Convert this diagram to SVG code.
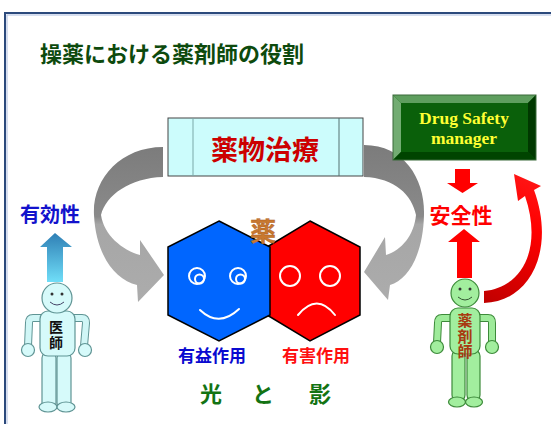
<svg xmlns="http://www.w3.org/2000/svg" width="551" height="424" viewBox="0 0 551 424">
  <style>
    .jp { font-family: "Noto Sans CJK JP", "Noto Sans", sans-serif; font-weight: bold; }
    .en { font-family: "Liberation Serif", serif; font-weight: bold; }
    .vert { writing-mode: vertical-rl; }
    .hex { stroke: #000; stroke-width: 1.5; stroke-linejoin: miter; }
    .face { fill: none; stroke: #fff; stroke-width: 2; stroke-linecap: round; }
    .docLine { fill: #d6fafa; stroke: #5f9494; stroke-width: 1.2; }
    .phLine { fill: #a2ee9e; stroke: #3d8a3a; stroke-width: 1.2; }
  </style>
  <defs>
    <linearGradient id="grayL" x1="0" y1="147" x2="0" y2="302" gradientUnits="userSpaceOnUse">
      <stop offset="0" stop-color="#7c7c7c"/>
      <stop offset="0.45" stop-color="#8a8a8a"/>
      <stop offset="0.5" stop-color="#a6a6a6"/>
      <stop offset="1" stop-color="#acacac"/>
    </linearGradient>
    <linearGradient id="blueUp" x1="0" y1="233" x2="0" y2="282" gradientUnits="userSpaceOnUse">
      <stop offset="0" stop-color="#2f7fb5"/>
      <stop offset="1" stop-color="#70def8"/>
    </linearGradient>
    <linearGradient id="redCurve" x1="480" y1="300" x2="540" y2="170" gradientUnits="userSpaceOnUse">
      <stop offset="0" stop-color="#c00000"/>
      <stop offset="0.6" stop-color="#ff0000"/>
      <stop offset="1" stop-color="#ff1a1a"/>
    </linearGradient>
    <radialGradient id="docFill" cx="0.35" cy="0.35" r="0.8">
      <stop offset="0" stop-color="#f4ffff"/>
      <stop offset="1" stop-color="#b8eaea"/>
    </radialGradient>
    <radialGradient id="phFill" cx="0.35" cy="0.35" r="0.8">
      <stop offset="0" stop-color="#ccffc8"/>
      <stop offset="1" stop-color="#7cd878"/>
    </radialGradient>
  </defs>

  <!-- page frame -->
  <rect x="5" y="13" width="600" height="500" fill="#fff" stroke="#2c4a7c" stroke-width="2"/>
  <rect x="7" y="15" width="600" height="500" fill="none" stroke="#aebee0" stroke-width="1"/>

  <!-- title -->
  <g id="title">
    <text class="jp" x="40" y="62" font-size="22" fill="#0d4a0d">操薬における薬剤師の役割</text>
  </g>

  <!-- connectors -->
  <g id="connectors">
    <!-- gray loop arrow, left -->
    <path fill="url(#grayL)" d="M 163,147 C 120,147 92,180 94,215 C 96,255 115,280 137,285 L 138,302 L 164,275 L 140,240 L 140,255 C 122,250 104,235 101,215 C 106,195 130,178 163,177 Z"/>
    <!-- gray loop arrow, right -->
    <path fill="url(#grayL)" d="M 364,145 C 405,145 425,180 424,215 C 423,255 408,280 390,285 L 388,300 L 364,272 L 385,237 L 386,255 C 402,250 414,235 416,215 C 412,195 395,178 364,177 Z"/>
    <!-- doctor to efficacy -->
    <path fill="url(#blueUp)" d="M 55,233 L 72,247 L 63,247 L 63,282 L 47,282 L 47,247 L 40,247 Z"/>
    <!-- manager to safety -->
    <path fill="#ff0000" d="M 455,169 L 470,169 L 470,183 L 478,183 L 462.5,193 L 447,183 L 455,183 Z"/>
    <!-- pharmacist to safety -->
    <path fill="#ff0000" d="M 464,229 L 480,242 L 472,242 L 472,278 L 457,278 L 457,242 L 448,242 Z"/>
    <!-- pharmacist back to manager -->
    <path fill="url(#redCurve)" d="M 484,303 C 530,302 556,250 534,190 L 541,186 L 514,174 L 518,201 L 525,196 C 542,245 525,287 484,291 Z"/>
  </g>

  <!-- drug therapy -->
  <g id="therapy">
    <rect x="168" y="118" width="195" height="58" fill="#ccfcfc" stroke="#444" stroke-width="1"/>
    <line x1="193" y1="118" x2="193" y2="176" stroke="#7aa8a8" stroke-width="1"/>
    <line x1="339" y1="118" x2="339" y2="176" stroke="#557070" stroke-width="1"/>
    <text class="jp" x="265" y="160" font-size="27" fill="#cc0000" text-anchor="middle">薬物治療</text>
  </g>

  <!-- drug safety manager -->
  <g id="manager">
    <rect x="393" y="95" width="143" height="65" fill="#005c00"/>
    <polygon points="393,95 536,95 528,103 401,103" fill="#5e9e5e"/>
    <polygon points="393,95 401,103 401,152 393,160" fill="#72ac72"/>
    <polygon points="536,95 536,160 528,152 528,103" fill="#003800"/>
    <polygon points="393,160 401,152 528,152 536,160" fill="#004400"/>
    <rect x="401" y="103" width="127" height="49" fill="#0a600a"/>
    <rect x="393" y="95" width="143" height="65" fill="none" stroke="#3a6a3a" stroke-width="1"/>
    <text class="en" font-size="17.5" fill="#ffff33" text-anchor="middle"><tspan x="464" y="124">Drug Safety</tspan><tspan x="464" y="144">manager</tspan></text>
  </g>

  <!-- medicine: benefit and harm -->
  <g id="harm">
    <polygon class="hex" fill="#ff0000" points="310,221 360,247 360,315 310,341 267,315 267,247"/>
    <circle class="face" cx="290" cy="276" r="10"/>
    <circle class="face" cx="330" cy="276" r="10"/>
    <path class="face" d="M 298,315 Q 317,292 335,315"/>
  </g>
  <g id="benefit">
    <polygon class="hex" fill="#0066ff" points="219,221 270,247 270,315 219,341 168,315 168,247"/>
    <circle class="face" cx="197" cy="276" r="8"/>
    <circle class="face" cx="199.5" cy="279" r="4.5"/>
    <circle class="face" cx="238" cy="276" r="8"/>
    <circle class="face" cx="240.5" cy="279" r="4.5"/>
    <path class="face" d="M 200,310 Q 219,328 239,309"/>
  </g>
  <g id="medicine">
    <text class="jp" x="263" y="241" font-size="26" fill="#c8782f" stroke="#a85a20" stroke-width="0.4" text-anchor="middle">薬</text>
  </g>
  <g id="labels">
    <text class="jp" x="212" y="362" font-size="17" fill="#0a0ad0" text-anchor="middle">有益作用</text>
    <text class="jp" x="316" y="362" font-size="17" fill="#ff1010" text-anchor="middle">有害作用</text>
    <text class="jp" x="211" y="402" font-size="22" fill="#137313" text-anchor="middle">光</text>
    <text class="jp" x="263" y="402" font-size="22" fill="#137313" text-anchor="middle">と</text>
    <text class="jp" x="320" y="402" font-size="22" fill="#137313" text-anchor="middle">影</text>
  </g>

  <g id="efficacy">
    <text class="jp" x="50" y="222" font-size="20" fill="#1212cc" text-anchor="middle">有効性</text>
  </g>
  <g id="safety">
    <text class="jp" x="461" y="223" font-size="21" fill="#ff0000" text-anchor="middle">安全性</text>
  </g>

  <!-- doctor -->
  <g id="doctor">
    <path d="M 42,318 L 33,318 Q 29,318 29,323 L 28,346" fill="none" stroke="#5f9494" stroke-width="8" stroke-linecap="round"/>
    <path d="M 42,318 L 33,318 Q 29,318 29,323 L 28,346" fill="none" stroke="#d0f6f6" stroke-width="6" stroke-linecap="round"/>
    <path d="M 73,318 L 82,318 Q 86,318 86,323 L 84,346" fill="none" stroke="#5f9494" stroke-width="8" stroke-linecap="round"/>
    <path d="M 73,318 L 82,318 Q 86,318 86,323 L 84,346" fill="none" stroke="#d0f6f6" stroke-width="6" stroke-linecap="round"/>
    <circle class="docLine" cx="28" cy="350" r="6.5" fill="url(#docFill)"/>
    <circle class="docLine" cx="85" cy="350" r="6.5" fill="url(#docFill)"/>
    <rect class="docLine" x="42" y="352" width="14" height="57" rx="6" fill="url(#docFill)"/>
    <rect class="docLine" x="57" y="352" width="14" height="57" rx="6" fill="url(#docFill)"/>
    <ellipse class="docLine" cx="48" cy="407" rx="9" ry="5" fill="url(#docFill)"/>
    <ellipse class="docLine" cx="66" cy="407" rx="9" ry="5" fill="url(#docFill)"/>
    <rect class="docLine" x="40" y="311" width="35" height="45" rx="8" fill="url(#docFill)"/>
    <circle class="docLine" cx="57" cy="298" r="15" fill="url(#docFill)"/>
    <circle cx="52" cy="294" r="1.5" fill="#333"/>
    <circle cx="62" cy="294" r="1.5" fill="#333"/>
    <path d="M 50,302 Q 57,308 64,302" fill="none" stroke="#446" stroke-width="1"/>
    <text class="jp vert" x="56" y="320" font-size="14" fill="#111" letter-spacing="1.5">医師</text>
  </g>

  <!-- pharmacist -->
  <g id="pharmacist">
    <path d="M 452,318 L 442,318 Q 438,318 438,323 L 437,343" fill="none" stroke="#3d8a3a" stroke-width="8" stroke-linecap="round"/>
    <path d="M 452,318 L 442,318 Q 438,318 438,323 L 437,343" fill="none" stroke="#9eeb9a" stroke-width="6" stroke-linecap="round"/>
    <path d="M 478,318 L 488,318 Q 492,318 492,323 L 492,343" fill="none" stroke="#3d8a3a" stroke-width="8" stroke-linecap="round"/>
    <path d="M 478,318 L 488,318 Q 492,318 492,323 L 492,343" fill="none" stroke="#9eeb9a" stroke-width="6" stroke-linecap="round"/>
    <circle class="phLine" cx="437" cy="347" r="6.5" fill="url(#phFill)"/>
    <circle class="phLine" cx="492" cy="347" r="6.5" fill="url(#phFill)"/>
    <rect class="phLine" x="452" y="350" width="13" height="51" rx="6" fill="url(#phFill)"/>
    <rect class="phLine" x="467" y="350" width="13" height="51" rx="6" fill="url(#phFill)"/>
    <ellipse class="phLine" cx="457" cy="402" rx="8.5" ry="5" fill="url(#phFill)"/>
    <ellipse class="phLine" cx="474" cy="402" rx="8.5" ry="5" fill="url(#phFill)"/>
    <rect class="phLine" x="450" y="308" width="30" height="46" rx="8" fill="url(#phFill)"/>
    <circle class="phLine" cx="465" cy="293" r="14" fill="url(#phFill)"/>
    <circle cx="460" cy="289" r="1.5" fill="#333"/>
    <circle cx="470" cy="289" r="1.5" fill="#333"/>
    <path d="M 458,297 Q 465,303 472,297" fill="none" stroke="#353" stroke-width="1"/>
    <text class="jp vert" x="465" y="313" font-size="15" fill="#a83a10" letter-spacing="0.5">薬剤師</text>
  </g>
</svg>
